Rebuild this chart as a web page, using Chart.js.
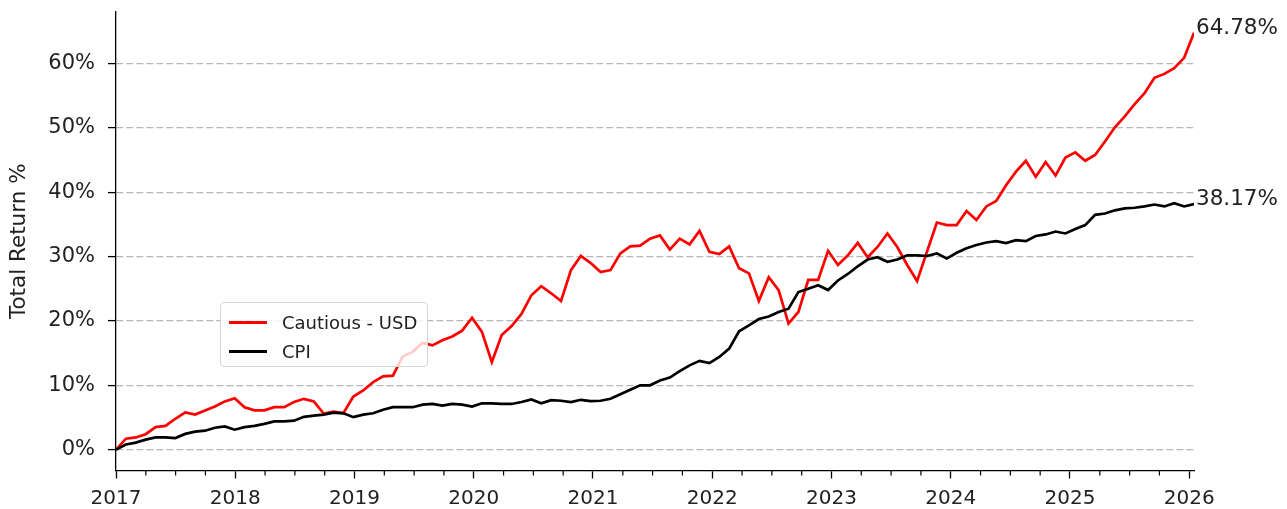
<!DOCTYPE html>
<html>
<head>
<meta charset="utf-8">
<script src="https://cdn.jsdelivr.net/npm/chart.js@4.4.1/dist/chart.umd.min.js"></script>
<style>
  html, body { margin: 0; padding: 0; background: #fff; }
  #wrap { position: relative; width: 1287px; height: 509px; }
  canvas { display: block; }
  .legend {
    position: absolute; left: 220px; top: 302px; width: 206px; height: 63px;
    border: 1px solid #d6d6d6; border-radius: 4px; background: rgba(255,255,255,0.8);
    font-family: 'DejaVu Sans', sans-serif; font-size: 18px; color: #222;
  }
  .legend .row { position: absolute; left: 8px; height: 20px; display: flex; align-items: center; }
  .legend .swatch { width: 38px; height: 3px; margin-right: 15px; }
</style>
</head>
<body>
<div id="wrap">
  <canvas id="chart" width="1287" height="509"></canvas>
  <div class="legend">
    <div class="row" style="top: 9px;"><span class="swatch" style="background:#ff0000"></span><span>Cautious - USD</span></div>
    <div class="row" style="top: 38px;"><span class="swatch" style="background:#000"></span><span>CPI</span></div>
  </div>
</div>
<script>
// monthly observations, Jan 2017 .. Jan 2026 (110 points)
const startYear = 2017;
const endYear = 2026.04;

const cautiousUsd = [
  0, 1.7, 1.9, 2.4, 3.5, 3.7, 4.8, 5.8, 5.45, 6.1, 6.7, 7.5,
  8.0, 6.6, 6.1, 6.1, 6.6, 6.6, 7.4, 7.9, 7.5, 5.6, 5.9, 5.7,
  8.25, 9.2, 10.5, 11.4, 11.5, 14.5, 15.2, 16.6, 16.2, 17.0, 17.6, 18.5,
  20.5, 18.3, 13.6, 17.8, 19.2, 21.1, 24.0, 25.4, 24.3, 23.1, 27.9, 30.1,
  29.0, 27.6, 27.9, 30.5, 31.6, 31.7, 32.8, 33.3, 31.1, 32.8, 31.9, 34.0,
  30.75, 30.4, 31.6, 28.2, 27.4, 23.1, 26.8, 24.8, 19.6, 21.4, 26.4, 26.4,
  30.9, 28.7, 30.2, 32.15, 29.9, 31.5, 33.6, 31.5, 28.7, 26.2, 30.75, 35.3,
  34.9, 34.9, 37.1, 35.7, 37.8, 38.65, 41.1, 43.2, 44.9, 42.4, 44.7, 42.6,
  45.4, 46.2, 44.9, 45.8, 47.9, 50.1, 51.8, 53.7, 55.4, 57.8, 58.4, 59.3,
  60.9, 64.78
];

const cpi = [
  0, 0.8, 1.1, 1.55, 1.9, 1.9, 1.8, 2.45, 2.8, 2.95, 3.4, 3.6,
  3.1, 3.5, 3.7, 4.0, 4.4, 4.4, 4.5, 5.1, 5.3, 5.45, 5.75, 5.65,
  5.05, 5.45, 5.65, 6.2, 6.6, 6.6, 6.6, 7.0, 7.1, 6.85, 7.1, 7.0,
  6.7, 7.2, 7.2, 7.1, 7.1, 7.4, 7.8, 7.2, 7.7, 7.6, 7.4, 7.75,
  7.55, 7.6, 7.9, 8.6, 9.3, 10.0, 10.0, 10.75, 11.2, 12.2, 13.1, 13.8,
  13.45, 14.4, 15.7, 18.4, 19.3, 20.3, 20.7, 21.4, 21.9, 24.5, 25.0, 25.55,
  24.8, 26.3, 27.3, 28.5, 29.55, 29.9, 29.2, 29.55, 30.2, 30.2, 30.1, 30.5,
  29.7, 30.6, 31.3, 31.8, 32.2, 32.4, 32.1, 32.55, 32.4, 33.2, 33.45, 33.9,
  33.6, 34.3, 34.9, 36.5, 36.7, 37.2, 37.5, 37.6, 37.8, 38.1, 37.8, 38.3,
  37.8, 38.17
];

const yTicks = [0, 10, 20, 30, 40, 50, 60];
const seriesNames = ['Cautious - USD', 'CPI'];
const seriesColors = ['#ff0000', '#000000'];

// dates as decimal years, one per observation
const dates = cautiousUsd.map((_, i) => startYear + i * (endYear - startYear) / (cautiousUsd.length - 1));
const toPoints = arr => arr.map((v, i) => ({ x: dates[i], y: v }));

const FONT = "'DejaVu Sans', sans-serif";

// minor quarterly ticks on the x axis + value labels at the end of each line
const extras = {
  id: 'extras',
  afterDraw(chart) {
    const { ctx, scales: { x } } = chart;
    ctx.save();
    ctx.strokeStyle = '#000';
    ctx.lineWidth = 1.2;
    for (const t of x.ticks) {
      if (Number.isInteger(t.value)) continue;
      const px = x.getPixelForValue(t.value);
      ctx.beginPath();
      ctx.moveTo(px, x.top);
      ctx.lineTo(px, x.top + 5);
      ctx.stroke();
    }
    ctx.font = '21.5px ' + FONT;
    ctx.fillStyle = '#222';
    ctx.textAlign = 'left';
    ctx.textBaseline = 'alphabetic';
    chart.data.datasets.forEach((ds, i) => {
      const meta = chart.getDatasetMeta(i);
      const pt = meta.data[meta.data.length - 1];
      const last = ds.data[ds.data.length - 1].y;
      ctx.fillText(last.toFixed(2) + '%', pt.x + 2, pt.y + 1);
    });
    ctx.restore();
  }
};

new Chart(document.getElementById('chart'), {
  type: 'line',
  data: {
    datasets: [
      { label: seriesNames[0], data: toPoints(cautiousUsd), borderColor: seriesColors[0], borderWidth: 2.7, pointRadius: 0, tension: 0, order: 1 },
      { label: seriesNames[1], data: toPoints(cpi), borderColor: seriesColors[1], borderWidth: 2.7, pointRadius: 0, tension: 0, order: 0 },
    ],
  },
  options: {
    responsive: false,
    animation: false,
    layout: { padding: { top: 12, right: 93, bottom: 0, left: 0 } },
    plugins: { legend: { display: false }, tooltip: { enabled: false } },
    scales: {
      x: {
        type: 'linear',
        min: startYear,
        max: endYear,
        afterFit: s => { s.height = 38.5; s.paddingLeft = 0; s.paddingRight = 0; },
        border: { display: true, color: '#000', width: 1.3 },
        grid: {
          drawOnChartArea: false, drawTicks: true, tickLength: 8, tickWidth: 1.3,
          tickColor: c => Number.isInteger(c.tick.value) ? '#000' : 'rgba(0,0,0,0)',
        },
        ticks: {
          stepSize: 0.25, autoSkip: false, maxRotation: 0, includeBounds: false,
          padding: 8, color: '#222', font: { family: FONT, size: 20 },
          callback: v => Number.isInteger(v) ? String(v) : '',
        },
      },
      y: {
        min: -3.24,
        max: 68.02,
        afterFit: s => { s.width = 116; s.paddingTop = 0; s.paddingBottom = 0; },
        afterBuildTicks: s => { s.ticks = yTicks.map(v => ({ value: v })); },
        border: { display: true, color: '#000', width: 1.3, dash: [7, 3] },
        grid: {
          color: '#b8b8b8', lineWidth: 1.2, drawTicks: true, tickLength: 8,
          tickColor: '#000', tickWidth: 1.3, tickBorderDash: [],
        },
        ticks: {
          padding: 13, color: '#222', font: { family: FONT, size: 21 },
          callback: v => v + '%',
        },
        title: {
          display: true, text: 'Total Return %', color: '#222',
          font: { family: FONT, size: 21.5 }, padding: { top: 7, bottom: 0 },
        },
      },
    },
  },
  plugins: [extras],
});
</script>
</body>
</html>
